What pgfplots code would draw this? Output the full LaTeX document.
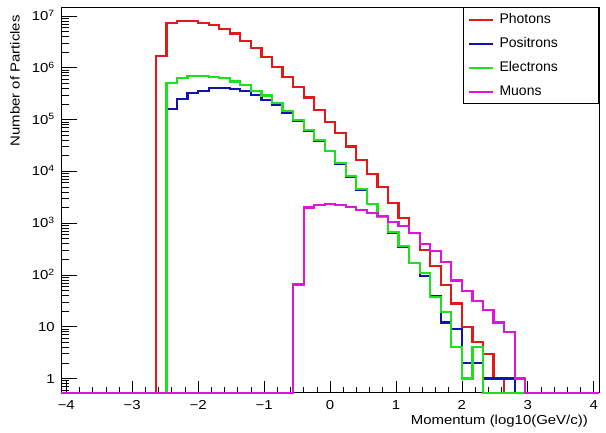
\documentclass[border=0pt]{standalone}
\usepackage{fontspec}
\setmainfont{Liberation Sans}[FakeStretch=1.15]
\newfontfamily\legfont{Liberation Sans}
\usepackage{pgfplots}
\pgfplotsset{compat=1.18}
\usepackage{pgfplotstable}
\definecolor{cph}{RGB}{225,25,25}
\definecolor{cpo}{RGB}{15,20,175}
\definecolor{cel}{RGB}{30,225,30}
\definecolor{cmu}{RGB}{220,20,220}

% x = left bin edge; empty bins are drawn at the frame bottom (0.53)
\pgfplotstableread{
x      ph      po      el      mu
-4.08  0.53    0.53    0.53    0.53
-3.92  0.53    0.53    0.53    0.53
-3.76  0.53    0.53    0.53    0.53
-3.60  0.53    0.53    0.53    0.53
-3.44  0.53    0.53    0.53    0.53
-3.28  0.53    0.53    0.53    0.53
-3.12  0.53    0.53    0.53    0.53
-2.96  0.53    0.53    0.53    0.53
-2.80  0.53    0.53    0.53    0.53
-2.64  1.71e6  0.53    0.53    0.53
-2.48  7.2e6   1.6e5   5.0e5   0.53
-2.32  8.1e6   2.46e5  6.25e5  0.53
-2.16  8.05e6  3.2e5   6.9e5   0.53
-2.00  7.4e6   3.6e5   6.9e5   0.53
-1.84  6.7e6   4.0e5   6.7e5   0.53
-1.68  5.6e6   4.1e5   6.25e5  0.53
-1.52  4.6e6   3.9e5   5.4e5   0.53
-1.36  3.3e6   3.5e5   4.6e5   0.53
-1.20  2.37e6  2.97e5  3.6e5   0.53
-1.04  1.59e6  2.4e5   2.9e5   0.53
-0.88  1.02e6  1.9e5   2.06e5  0.53
-0.72  6.7e5   1.32e5  1.46e5  0.53
-0.56  4.3e5   9.4e4   9.8e4   65
-0.40  2.67e5  6.1e4   6.3e4   2000
-0.24  1.53e5  3.9e4   4.0e4   2230
-0.08  9.1e4   2.45e4  2.5e4   2330
0.08   5.4e4   1.4e4   1.43e4  2230
0.24   3.0e4   7900    8100    2070
0.40   1.65e4  4400    4500    1790
0.56   8900    2300    2330    1590
0.72   4900    1290    1320    1390
0.88   2470    650     670     1060
1.04   1250    345     355     890
1.20   650     168     170     650
1.36   305     95      107     388
1.52   150     39      38      288
1.68   64      12      19      179
1.84   28      9       4       78
2.00   10      2       1       49
2.16   5       2       4       31
2.32   3       1       0.53    21
2.48   1       1       0.53    12
2.64   0.53    1       0.53    8
2.80   0.53    0.53    0.53    1
2.96   0.53    0.53    0.53    0.53
3.12   0.53    0.53    0.53    0.53
3.28   0.53    0.53    0.53    0.53
3.44   0.53    0.53    0.53    0.53
3.60   0.53    0.53    0.53    0.53
3.76   0.53    0.53    0.53    0.53
3.92   0.53    0.53    0.53    0.53
4.08   0.53    0.53    0.53    0.53
}\histdata

\begin{document}
\begin{tikzpicture}
\useasboundingbox (-61pt,-40.3pt) rectangle (545pt,392.7pt);
\begin{axis}[
  scale only axis,
  width=538pt, height=385.4pt,
  ymode=log,
  xmin=-4.08, xmax=4.08,
  ymin=0.53, ymax=1.47e7,
  clip=false,
  tick pos=left,
  tick align=inside,
  axis line style={line width=0.9pt, black},
  every tick/.style={black, line width=0.6pt},
  major x tick style={/pgfplots/major tick length=11.5pt},
  minor x tick style={/pgfplots/minor tick length=6pt},
  major y tick style={/pgfplots/major tick length=16pt},
  minor y tick style={/pgfplots/minor tick length=8pt},
  xtick={-4,-3,-2,-1,0,1,2,3,4},
  xticklabels={−4,−3,−2,−1,0,1,2,3,4},
  minor x tick num=4,
  ytick={1,10,100,1000,10000,100000,1000000,10000000},
  yticklabels={1,10,10\textsuperscript{2},10\textsuperscript{3},10\textsuperscript{4},10\textsuperscript{5},10\textsuperscript{6},10\textsuperscript{7}},
  minor ytick={0.6,0.7,0.8,0.9,2,3,4,5,6,7,8,9,20,30,40,50,60,70,80,90,200,300,400,500,600,700,800,900,2000,3000,4000,5000,6000,7000,8000,9000,20000,30000,40000,50000,60000,70000,80000,90000,200000,300000,400000,500000,600000,700000,800000,900000,2000000,3000000,4000000,5000000,6000000,7000000,8000000,9000000},
  tick label style={font=\fontsize{13}{15}\selectfont},
  xticklabel style={inner sep=0pt, yshift=-7.3pt},
  yticklabel style={inner sep=0pt, anchor=base east, xshift=-6pt, yshift=-4.65pt},
  label style={font=\fontsize{13}{15}\selectfont},
  xlabel={Momentum (log10(GeV/c))},
  ylabel={Number of Particles},
  xlabel style={at={(axis description cs:0.9796,-0.0579)}, anchor=north east, inner sep=0pt},
  ylabel style={at={(axis description cs:-0.0948,0.980)}, anchor=north east, inner sep=0pt},
  legend cell align=left,
  legend image code/.code={\draw[#1] (0pt,0pt) -- (24pt,0pt);},
  legend style={at={(1,1)}, anchor=north east, draw=black, line width=0.9pt, fill=white,
    font=\legfont\fontsize{14}{16}\selectfont,
    inner xsep=5pt, inner ysep=0pt, row sep=0pt,
    nodes={inner xsep=0pt, inner ysep=0pt, text height=10.5pt, text depth=3pt, minimum height=24pt, text width=94pt},
    /tikz/every odd column/.append style={column sep=5pt}},
  every axis plot/.append style={line width=2.2pt, const plot mark left},
]
\addplot[cph] table[x=x, y=ph] {\histdata};
\addlegendentry{Photons}
\addplot[cpo] table[x=x, y=po] {\histdata};
\addlegendentry{Positrons}
\addplot[cel] table[x=x, y=el] {\histdata};
\addlegendentry{Electrons}
\addplot[cmu] table[x=x, y=mu] {\histdata};
\addlegendentry{Muons}
\end{axis}
\end{tikzpicture}
\end{document}
